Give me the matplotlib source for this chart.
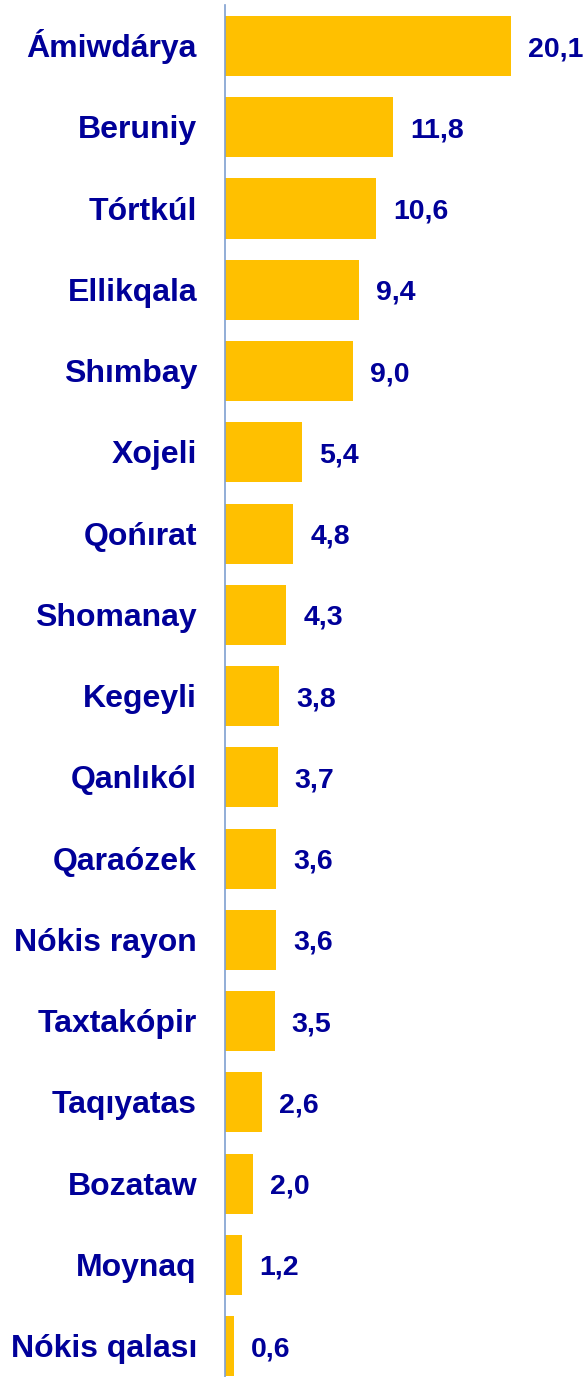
import matplotlib
matplotlib.use("Agg")
import matplotlib.pyplot as plt

categories = ["Ámiwdárya", "Beruniy", "Tórtkúl", "Ellikqala", "Shımbay", "Xojeli",
              "Qońırat", "Shomanay", "Kegeyli", "Qanlıkól", "Qaraózek", "Nókis rayon",
              "Taxtakópir", "Taqıyatas", "Bozataw", "Moynaq", "Nókis qalası"]
values = [20.1, 11.8, 10.6, 9.4, 9.0, 5.4, 4.8, 4.3, 3.8, 3.7, 3.6, 3.6, 3.5, 2.6, 2.0, 1.2, 0.6]

plt.rcParams['font.family'] = ['Liberation Sans', 'DejaVu Sans']
text_color = "#000099"
fig = plt.figure(figsize=(5.88, 13.77), dpi=100)
W, H = 588, 1377
ax = fig.add_axes([225 / W, 0, (W - 225) / W, (1377 - 5) / H])
ypos = list(range(len(categories)))
ax.barh(ypos, values, height=0.74, color="#FFC000")
ax.set_xlim(0, (W - 225) / 14.23)
ax.set_ylim(16.38, -0.505)
ax.set_yticks(ypos)
ax.set_yticklabels([])
ax.tick_params(axis="y", length=0)
ax.set_xticks([])
for s in ["top", "right", "bottom"]:
    ax.spines[s].set_visible(False)
ax.spines["left"].set_color("#7F9FD0")
ax.spines["left"].set_linewidth(1.2)
for y, name in zip(ypos, categories):
    ax.annotate(name, (0, y), xycoords=("axes fraction", "data"), xytext=(-28, -11),
                textcoords="offset pixels", va="baseline", ha="right",
                fontsize=23, fontweight="bold", color=text_color, annotation_clip=False)
for y, v in zip(ypos, values):
    ax.annotate(f"{v:.1f}".replace(".", ","), (v, y), xytext=(17, -10), textcoords="offset pixels",
                va="baseline", ha="left", fontsize=20.5, fontweight="bold", color=text_color,
                annotation_clip=False)
fig.savefig("out.png", dpi=100)
